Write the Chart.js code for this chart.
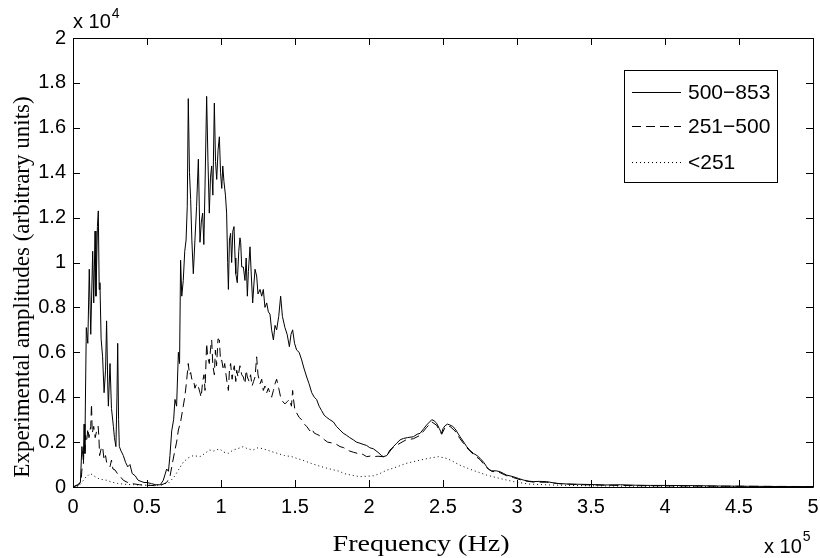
<!DOCTYPE html>
<html>
<head>
<meta charset="utf-8">
<script src="https://cdn.jsdelivr.net/npm/chart.js@4.4.1/dist/chart.umd.min.js"></script>
<style>
  html, body { margin: 0; padding: 0; background: #fff; }
  #wrap { width: 820px; height: 558px; }
</style>
</head>
<body>
<div id="wrap"><canvas id="spectrumChart" width="820" height="558"></canvas></div>
<script>
// frequency in units of 1e5 Hz, amplitude in units of 1e4
const seriesLabels = ['500\u2212853', '251\u2212500', '<251'];
const xTitle = 'Frequency (Hz)';
const yTitle = 'Experimental amplitudes (arbitrary units)';

const amp500to853 = [
  [0,0],[0.03,0.01],[0.05,0.02],[0.06,0.18],[0.07,0.12],[0.075,0.28],[0.08,0.15],[0.085,0.45],
  [0.09,0.71],[0.1,0.64],[0.11,0.97],[0.12,0.68],[0.133,1.05],[0.14,0.82],[0.149,1.14],[0.155,0.85],
  [0.165,1.16],[0.171,1.23],[0.177,0.88],[0.182,0.91],[0.19,0.66],[0.2,0.58],[0.21,0.42],[0.22,0.52],
  [0.227,0.74],[0.235,0.45],[0.239,0.36],[0.25,0.55],[0.26,0.35],[0.273,0.27],[0.28,0.22],[0.29,0.18],
  [0.297,0.40],[0.302,0.64],[0.308,0.30],[0.313,0.18],[0.325,0.16],[0.34,0.14],[0.355,0.11],[0.37,0.09],
  [0.385,0.10],[0.40,0.06],[0.42,0.05],[0.44,0.03],[0.46,0.025],[0.48,0.02],[0.50,0.02],[0.53,0.015],
  [0.56,0.01],[0.59,0.01],[0.61,0.03],[0.633,0.08],[0.645,0.07],[0.655,0.14],[0.667,0.25],[0.68,0.30],
  [0.689,0.39],[0.70,0.36],[0.712,0.60],[0.72,0.55],[0.727,1.01],[0.735,0.85],[0.745,0.92],[0.755,1.05],
  [0.764,1.10],[0.772,1.25],[0.779,1.73],[0.787,1.40],[0.795,1.28],[0.803,1.10],[0.813,0.95],[0.824,1.10],
  [0.835,1.25],[0.847,1.46],[0.858,1.09],[0.867,1.18],[0.876,1.22],[0.884,1.08],[0.892,1.34],[0.903,1.74],
  [0.912,1.45],[0.921,1.22],[0.929,1.38],[0.937,1.43],[0.945,1.30],[0.955,1.71],[0.963,1.45],[0.971,1.37],
  [0.98,1.50],[0.989,1.56],[0.997,1.40],[1.005,1.33],[1.012,1.43],[1.02,1.36],[1.03,1.30],[1.038,1.22],
  [1.045,1.00],[1.05,0.88],[1.057,1.10],[1.065,1.13],[1.072,1.00],[1.08,1.14],[1.088,1.16],[1.095,1.02],
  [1.10,0.95],[1.11,0.91],[1.12,1.05],[1.128,1.11],[1.133,1.09],[1.14,0.98],[1.151,0.98],[1.162,0.92],
  [1.17,1.02],[1.178,0.85],[1.185,0.96],[1.196,1.07],[1.205,0.94],[1.214,0.82],[1.222,0.90],[1.23,0.97],
  [1.241,0.94],[1.25,0.86],[1.264,0.88],[1.275,0.85],[1.286,0.88],[1.297,0.80],[1.309,0.82],[1.32,0.78],
  [1.331,0.77],[1.342,0.70],[1.354,0.655],[1.365,0.72],[1.376,0.70],[1.39,0.76],[1.403,0.85],[1.415,0.76],
  [1.432,0.71],[1.447,0.68],[1.462,0.625],[1.473,0.68],[1.484,0.70],[1.497,0.64],[1.511,0.61],[1.528,0.60],
  [1.545,0.566],[1.56,0.53],[1.579,0.49],[1.595,0.46],[1.613,0.42],[1.63,0.40],[1.646,0.39],[1.663,0.36],
  [1.68,0.34],[1.697,0.32],[1.714,0.31],[1.735,0.30],[1.759,0.29],[1.78,0.27],[1.804,0.254],[1.825,0.24],
  [1.849,0.23],[1.87,0.22],[1.894,0.21],[1.915,0.20],[1.939,0.195],[1.96,0.19],[1.984,0.185],[2.005,0.175],
  [2.03,0.17],[2.06,0.155],[2.085,0.14],[2.097,0.135],[2.12,0.14],[2.142,0.16],[2.165,0.18],[2.187,0.195],
  [2.21,0.21],[2.232,0.216],[2.26,0.22],[2.30,0.224],[2.325,0.235],[2.345,0.239],[2.37,0.26],[2.389,0.276],
  [2.41,0.29],[2.424,0.30],[2.44,0.295],[2.457,0.284],[2.475,0.26],[2.491,0.239],[2.50,0.26],[2.514,0.273],
  [2.53,0.28],[2.547,0.276],[2.565,0.27],[2.581,0.26],[2.60,0.24],[2.615,0.224],[2.64,0.20],[2.66,0.18],
  [2.68,0.165],[2.705,0.15],[2.73,0.14],[2.75,0.128],[2.775,0.11],[2.795,0.09],[2.81,0.078],[2.829,0.072],
  [2.86,0.072],[2.885,0.068],[2.91,0.06],[2.93,0.053],[2.975,0.046],[3.01,0.038],[3.043,0.031],[3.08,0.026],
  [3.11,0.024],[3.15,0.025],[3.2,0.024],[3.268,0.016],[3.35,0.013],[3.426,0.012],[3.5,0.011],[3.6,0.009],
  [3.7,0.010],[3.8,0.008],[3.9,0.007],[4.0,0.007],[4.2,0.006],[4.4,0.004],[4.6,0.003],[4.8,0.002],[5.0,0.002]
];

const amp251to500 = [
  [0,0],[0.04,0.01],[0.055,0.03],[0.06,0.076],[0.07,0.10],[0.075,0.18],[0.08,0.14],[0.085,0.23],
  [0.09,0.20],[0.095,0.22],[0.10,0.26],[0.108,0.22],[0.115,0.25],[0.12,0.27],[0.125,0.37],[0.13,0.24],
  [0.14,0.27],[0.15,0.22],[0.16,0.25],[0.17,0.27],[0.175,0.22],[0.18,0.14],[0.19,0.17],[0.2,0.18],
  [0.21,0.12],[0.22,0.14],[0.227,0.11],[0.24,0.10],[0.25,0.09],[0.26,0.12],[0.27,0.08],[0.284,0.076],
  [0.30,0.06],[0.32,0.046],[0.34,0.03],[0.37,0.02],[0.40,0.015],[0.45,0.01],[0.5,0.008],[0.55,0.006],
  [0.6,0.01],[0.633,0.02],[0.655,0.046],[0.67,0.10],[0.689,0.165],[0.70,0.20],[0.712,0.254],[0.727,0.29],
  [0.745,0.36],[0.755,0.40],[0.764,0.45],[0.779,0.55],[0.787,0.50],[0.795,0.51],[0.803,0.48],[0.813,0.48],
  [0.824,0.44],[0.835,0.46],[0.847,0.447],[0.858,0.42],[0.866,0.40],[0.876,0.47],[0.885,0.50],[0.892,0.43],
  [0.903,0.64],[0.91,0.58],[0.921,0.55],[0.93,0.62],[0.937,0.655],[0.945,0.54],[0.955,0.50],[0.962,0.61],
  [0.97,0.54],[0.98,0.66],[0.989,0.655],[0.997,0.56],[1.005,0.565],[1.016,0.52],[1.025,0.55],[1.034,0.50],
  [1.04,0.47],[1.05,0.43],[1.057,0.52],[1.065,0.55],[1.075,0.48],[1.083,0.52],[1.09,0.54],[1.1,0.47],
  [1.106,0.52],[1.115,0.49],[1.128,0.54],[1.14,0.50],[1.151,0.49],[1.162,0.46],[1.17,0.52],[1.178,0.49],
  [1.19,0.47],[1.2,0.50],[1.21,0.45],[1.22,0.47],[1.23,0.49],[1.241,0.58],[1.25,0.50],[1.264,0.46],
  [1.275,0.48],[1.286,0.43],[1.297,0.45],[1.309,0.42],[1.32,0.44],[1.331,0.417],[1.342,0.40],[1.354,0.43],
  [1.365,0.46],[1.376,0.48],[1.39,0.44],[1.403,0.40],[1.418,0.38],[1.432,0.37],[1.447,0.38],[1.462,0.39],
  [1.476,0.36],[1.484,0.43],[1.49,0.39],[1.5,0.34],[1.511,0.33],[1.528,0.31],[1.545,0.30],[1.562,0.28],
  [1.579,0.27],[1.6,0.25],[1.613,0.26],[1.63,0.24],[1.646,0.235],[1.663,0.23],[1.68,0.22],[1.7,0.21],
  [1.72,0.20],[1.759,0.195],[1.78,0.19],[1.804,0.18],[1.83,0.175],[1.849,0.165],[1.87,0.16],[1.894,0.155],
  [1.92,0.15],[1.939,0.15],[1.96,0.145],[1.984,0.135],[2.01,0.138],[2.03,0.135],[2.06,0.137],[2.097,0.135],
  [2.12,0.14],[2.142,0.165],[2.17,0.18],[2.21,0.195],[2.25,0.21],[2.30,0.215],[2.345,0.23],[2.389,0.265],
  [2.424,0.29],[2.457,0.275],[2.491,0.235],[2.514,0.265],[2.547,0.27],[2.581,0.25],[2.615,0.215],[2.66,0.175],
  [2.705,0.145],[2.75,0.122],[2.795,0.086],[2.829,0.07],[2.885,0.064],[2.93,0.05],[2.975,0.042],[3.043,0.028],
  [3.11,0.022],[3.2,0.021],[3.3,0.014],[3.45,0.01],[3.6,0.008],[3.8,0.006],[4.0,0.005],[4.3,0.004],
  [4.6,0.003],[5.0,0.002]
];

const ampBelow251 = [
  [0,0],[0.04,0.005],[0.06,0.02],[0.08,0.04],[0.1,0.05],[0.115,0.06],[0.13,0.055],[0.149,0.046],
  [0.18,0.035],[0.227,0.03],[0.26,0.022],[0.30,0.016],[0.35,0.012],[0.408,0.01],[0.5,0.008],[0.588,0.008],
  [0.65,0.02],[0.689,0.05],[0.712,0.076],[0.745,0.11],[0.779,0.13],[0.813,0.14],[0.858,0.135],[0.892,0.15],
  [0.921,0.165],[0.95,0.16],[0.989,0.17],[1.02,0.155],[1.05,0.15],[1.083,0.165],[1.11,0.17],[1.151,0.18],
  [1.18,0.17],[1.218,0.165],[1.25,0.175],[1.286,0.17],[1.331,0.16],[1.38,0.15],[1.43,0.14],[1.48,0.135],
  [1.51,0.128],[1.57,0.115],[1.61,0.105],[1.68,0.09],[1.72,0.083],[1.8,0.07],[1.83,0.06],[1.9,0.05],
  [1.94,0.046],[2.03,0.05],[2.074,0.06],[2.12,0.075],[2.16,0.083],[2.21,0.095],[2.25,0.105],[2.345,0.12],
  [2.42,0.13],[2.47,0.135],[2.52,0.128],[2.55,0.12],[2.615,0.097],[2.7,0.075],[2.795,0.053],[2.885,0.038],
  [2.975,0.024],[3.08,0.013],[3.23,0.009],[3.43,0.006],[3.7,0.004],[4.0,0.003],[4.5,0.002],[5.0,0.001]
];

const xTicks = [0, 0.5, 1, 1.5, 2, 2.5, 3, 3.5, 4, 4.5, 5];
const yTicks = [0, 0.2, 0.4, 0.6, 0.8, 1, 1.2, 1.4, 1.6, 1.8, 2];

const toPoints = arr => arr.map(p => ({ x: p[0], y: p[1] }));
const fmtTick = v => String(Number(v.toFixed(1)));

const sans = '"Liberation Sans", Arial, sans-serif';
const serif = '"Liberation Serif", "DejaVu Serif", serif';
const tickFont = { family: sans, size: 20 };

Chart.defaults.color = '#000';

// box, inward ticks, axis labels, exponents and legend (MATLAB look)
const matlabFrame = {
    id: 'matlabFrame',
    afterDraw(chart) {
        const c = chart.ctx;
        const a = chart.chartArea;
        const xs = chart.scales.x, ys = chart.scales.y;
        c.save();
        c.strokeStyle = '#000';
        c.lineWidth = 1;
        c.beginPath();
        c.rect(Math.round(a.left) + 0.5, Math.round(a.top) + 0.5,
               Math.round(a.right - a.left), Math.round(a.bottom - a.top));
        c.stroke();

        const tl = 7;
        c.beginPath();
        xTicks.forEach(v => {
            const px = Math.round(xs.getPixelForValue(v)) + 0.5;
            c.moveTo(px, a.bottom); c.lineTo(px, a.bottom - tl);
            c.moveTo(px, a.top); c.lineTo(px, a.top + tl);
        });
        yTicks.forEach(v => {
            const py = Math.round(ys.getPixelForValue(v)) + 0.5;
            c.moveTo(a.left, py); c.lineTo(a.left + tl, py);
            c.moveTo(a.right, py); c.lineTo(a.right - tl, py);
        });
        c.stroke();

        // axis labels (serif, like the LaTeX font of the original)
        c.fillStyle = '#000';
        c.textAlign = 'center';
        c.textBaseline = 'alphabetic';
        c.save();
        c.font = '24px ' + serif;
        c.translate(421, 551);
        c.scale(1.17, 1);
        c.fillText(xTitle, 0, 0);
        c.restore();
        c.save();
        c.font = '23px ' + serif;
        c.translate(29, 287);
        c.rotate(-Math.PI / 2);
        c.fillText(yTitle, 0, 0);
        c.restore();

        // exponent labels
        c.textAlign = 'left';
        c.font = '20px ' + sans;
        c.fillText('x 10', a.left, 28);
        let w = c.measureText('x 10').width;
        c.font = '14px ' + sans;
        c.fillText('4', a.left + w + 1, 18);
        c.font = '20px ' + sans;
        c.fillText('x 10', 764, 553);
        w = c.measureText('x 10').width;
        c.font = '14px ' + sans;
        c.fillText('5', 764 + w + 1, 541);

        // legend
        const box = { left: 624, top: 70, right: 777, bottom: 182 };
        c.fillStyle = '#fff';
        c.fillRect(box.left, box.top, box.right - box.left, box.bottom - box.top);
        c.strokeRect(box.left + 0.5, box.top + 0.5, box.right - box.left, box.bottom - box.top);
        const rows = [92, 126, 162];
        c.font = '21px ' + sans;
        c.textBaseline = 'middle';
        chart.data.datasets.forEach((ds, i) => {
            c.save();
            c.setLineDash(ds.borderDash || []);
            c.lineWidth = ds.borderWidth;
            c.beginPath();
            c.moveTo(632, rows[i] + 0.5);
            c.lineTo(681, rows[i] + 0.5);
            c.stroke();
            c.restore();
            c.fillStyle = '#000';
            c.fillText(ds.label, 688, rows[i] + 1);
        });
        c.restore();
    }
};

new Chart(document.getElementById('spectrumChart'), {
    type: 'line',
    data: {
        datasets: [
            {
                label: seriesLabels[0],
                data: toPoints(amp500to853),
                borderColor: '#000',
                borderWidth: 1,
                pointRadius: 0,
                tension: 0
            },
            {
                label: seriesLabels[1],
                data: toPoints(amp251to500),
                borderColor: '#000',
                borderWidth: 1,
                borderDash: [9, 5],
                pointRadius: 0,
                tension: 0
            },
            {
                label: seriesLabels[2],
                data: toPoints(ampBelow251),
                borderColor: '#000',
                borderWidth: 1,
                borderDash: [1, 3],
                pointRadius: 0,
                tension: 0
            }
        ]
    },
    options: {
        responsive: false,
        animation: false,
        layout: { padding: { top: 38, right: 7, left: 0, bottom: 0 } },
        plugins: {
            legend: { display: false },
            tooltip: { enabled: false }
        },
        scales: {
            x: {
                type: 'linear',
                min: 0,
                max: 5,
                afterFit: s => { s.height = 71; s.paddingLeft = 0; s.paddingRight = 0; },
                afterBuildTicks: s => { s.ticks = xTicks.map(v => ({ value: v })); },
                grid: { display: false, drawTicks: false },
                border: { display: false },
                ticks: { font: tickFont, padding: 8, maxRotation: 0, autoSkip: false, callback: fmtTick }
            },
            y: {
                min: 0,
                max: 2,
                afterFit: s => { s.width = 73; s.paddingTop = 0; s.paddingBottom = 0; },
                afterBuildTicks: s => { s.ticks = yTicks.map(v => ({ value: v })); },
                grid: { display: false, drawTicks: false },
                border: { display: false },
                ticks: { font: tickFont, padding: 7, autoSkip: false, callback: fmtTick }
            }
        }
    },
    plugins: [matlabFrame]
});
</script>
</body>
</html>
